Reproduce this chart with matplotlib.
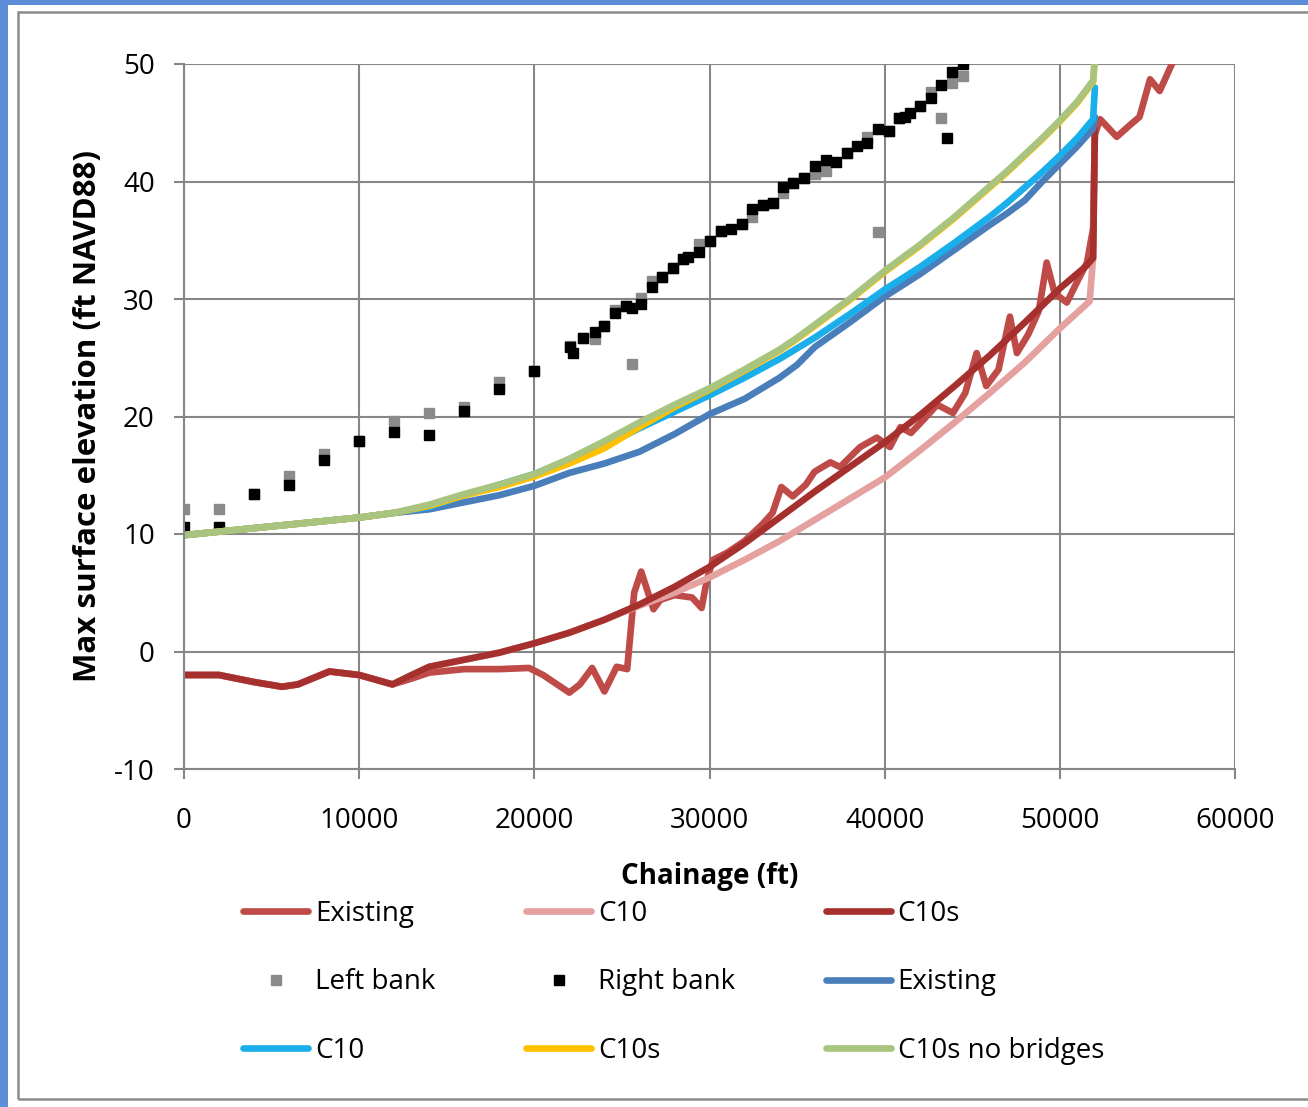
import matplotlib
matplotlib.use('Agg')
import matplotlib.pyplot as plt
from matplotlib.patches import Rectangle

plt.rcParams['font.family'] = ['Open Sans', 'DejaVu Sans']
plt.rcParams['axes.unicode_minus'] = False

# bed profiles (red)
bed_x = [0, 2000, 4000, 5600, 6500, 8300, 10000, 11900, 13000, 14000, 16000, 18000, 19700, 20500,
         22000, 22600, 23300, 24000, 24700, 25300, 25700, 26100, 26800, 27200, 28000, 28500, 29000,
         29550, 29850, 30200, 31000, 32000, 33000, 33600, 34100, 34750, 35500, 36000, 36900, 37450,
         38600, 39550, 40300, 40900, 41500, 42200, 43000, 43900, 44600, 45250, 45800, 46500, 47150,
         47550, 48200, 48800, 49250, 49700, 50400, 51000, 51550, 51900, 52000, 52300, 53250, 54000,
         54550, 55150, 55700, 56550]
bed_existing = [-2.0, -2.0, -2.6, -3.0, -2.8, -1.7, -2.0, -2.8, -2.3, -1.8, -1.5, -1.5, -1.4, -2.0,
                -3.5, -2.8, -1.4, -3.4, -1.3, -1.5, 5.0, 6.8, 3.6, 4.4, 4.8, 4.7, 4.6,
                3.7, 6.1, 7.8, 8.4, 9.4, 10.8, 11.8, 14.0, 13.2, 14.2, 15.3, 16.1, 15.7,
                17.4, 18.2, 17.4, 19.1, 18.6, 19.7, 21.0, 20.3, 22.0, 25.4, 22.6, 24.0, 28.5,
                25.4, 27.0, 29.0, 33.1, 30.5, 29.7, 31.5, 33.1, 36.0, 44.0, 45.3, 43.8, 44.8,
                45.5, 48.7, 47.7, 50.5]

c10s_x = [0, 2000, 4000, 5600, 6500, 8300, 10000, 11900, 13000, 14000, 16000, 18000, 20000, 22000,
          24000, 26000, 28000, 30000, 32000, 34000, 36000, 38000, 40000, 42000, 44000, 46000,
          48000, 50000, 51500, 51900, 52000]
bed_c10s = [-2.0, -2.0, -2.6, -3.0, -2.8, -1.7, -2.0, -2.8, -2.0, -1.3, -0.7, -0.1, 0.7, 1.6,
            2.7, 4.0, 5.5, 7.2, 9.2, 11.4, 13.6, 15.7, 17.8, 20.1, 22.6, 25.2,
            28.0, 30.9, 32.8, 33.5, 44.5]

c10_x = [0, 2000, 4000, 5600, 6500, 8300, 10000, 11900, 13000, 14000, 16000, 18000, 20000, 22000,
         24000, 25000, 26000, 28000, 30000, 32000, 34000, 36000, 38000, 40000, 42000, 44000,
         46000, 48000, 50000, 51700, 51900, 52000]
bed_c10 = [-2.0, -2.0, -2.6, -3.0, -2.8, -1.7, -2.0, -2.8, -2.0, -1.3, -0.7, -0.1, 0.7, 1.6,
           2.7, 3.3, 3.9, 5.0, 6.3, 7.8, 9.4, 11.2, 13.0, 14.8, 17.1, 19.5,
           22.0, 24.6, 27.5, 29.8, 33.5, 44.5]

# water surface (blue/green)
ws_x = [0, 2000, 4000, 6000, 8000, 10000, 12000, 14000, 16000, 18000, 20000, 22000, 24000, 26000,
        28000, 30000, 32000, 34000, 35000, 36000, 38000, 40000, 42000, 44000, 46000, 47000, 48000,
        49000, 50000, 51000, 51900, 52000]
ws_existing = [9.9, 10.2, 10.5, 10.8, 11.1, 11.4, 11.8, 12.1, 12.7, 13.3, 14.1, 15.2, 16.0, 17.0,
               18.5, 20.2, 21.5, 23.3, 24.4, 25.9, 28.0, 30.2, 32.1, 34.2, 36.3, 37.3, 38.4,
               40.0, 41.5, 43.0, 44.5, 45.5]
ws_c10 = [9.9, 10.2, 10.5, 10.8, 11.1, 11.4, 11.8, 12.3, 13.3, 14.2, 15.1, 16.3, 17.5, 19.0,
          20.4, 21.8, 23.3, 24.9, 25.8, 26.7, 28.7, 30.8, 32.7, 34.8, 37.0, 38.2, 39.5,
          40.8, 42.2, 43.7, 45.3, 48.0]
ws_c10s = [9.9, 10.2, 10.5, 10.8, 11.1, 11.4, 11.8, 12.4, 13.3, 14.0, 14.9, 16.0, 17.3, 19.1,
           20.8, 22.3, 23.9, 25.6, 26.6, 27.7, 29.9, 32.3, 34.5, 36.9, 39.5, 40.8, 42.2,
           43.6, 45.1, 46.7, 48.5, 50.5]
ws_nobridges = [9.9, 10.2, 10.5, 10.8, 11.1, 11.4, 11.8, 12.5, 13.4, 14.2, 15.1, 16.4, 17.9, 19.5,
                21.0, 22.4, 24.0, 25.7, 26.7, 27.8, 30.0, 32.4, 34.6, 37.0, 39.6, 40.9, 42.3,
                43.7, 45.2, 46.8, 48.6, 50.5]

# bank stations
lb_x = [0, 2000, 4000, 6000, 8000, 10000, 12000, 14000, 16000, 18000, 20000, 22050, 22800, 23450,
        24000, 24600, 25250, 25550, 26100, 26700, 27300, 27900, 28500, 29400, 30000, 30650, 31850,
        32450, 33050, 33600, 34200, 34750, 35400, 36050, 36650, 37850, 39000, 39600, 40250, 40800,
        42000, 42650, 43200, 43850, 44450]
left_bank = [12.1, 12.1, 13.4, 14.9, 16.8, 17.9, 19.6, 20.3, 20.8, 22.9, 23.9, 26.0, 26.7, 26.6,
             27.7, 29.1, 29.4, 24.5, 30.1, 31.5, 31.9, 32.6, 33.4, 34.7, 34.9, 35.8, 36.4,
             37.0, 38.0, 38.2, 39.0, 39.9, 40.3, 40.6, 40.9, 42.4, 43.8, 35.7, 44.3, 45.4,
             46.4, 47.6, 45.4, 48.4, 49.0]
rb_x = [0, 2000, 4000, 6000, 8000, 10000, 12000, 14000, 16000, 18000, 20000, 22050, 22200, 22800,
        23450, 24000, 24600, 25250, 25600, 26100, 26700, 27300, 27900, 28500, 28800, 29400, 30000,
        30650, 31200, 31850, 32450, 33050, 33600, 34200, 34750, 35400, 36050, 36650, 37250, 37850,
        38400, 39000, 39600, 40250, 40800, 41150, 41450, 42000, 42650, 43200, 43550, 43850, 44450]
right_bank = [10.6, 10.6, 13.4, 14.2, 16.3, 17.9, 18.7, 18.4, 20.5, 22.3, 23.9, 25.9, 25.4, 26.7,
              27.2, 27.7, 28.8, 29.4, 29.2, 29.6, 31.0, 31.9, 32.6, 33.4, 33.6, 34.0, 34.9,
              35.8, 36.0, 36.4, 37.7, 38.0, 38.2, 39.5, 39.9, 40.3, 41.3, 41.8, 41.7, 42.4,
              43.0, 43.3, 44.5, 44.3, 45.4, 45.5, 45.8, 46.4, 47.1, 48.2, 43.7, 49.3, 50.0]

W, H = 1308, 1107
fig = plt.figure(figsize=(W / 100, H / 100), dpi=100)
fig.patch.set_facecolor('white')
# blue frame strips and grey chart border
fig.patches.append(Rectangle((0, 0), 8 / W, 1, transform=fig.transFigure, facecolor='#5B8ED6', edgecolor='none'))
fig.patches.append(Rectangle((0, 1 - 5 / H), 1, 5 / H, transform=fig.transFigure, facecolor='#5B8ED6', edgecolor='none'))
fig.patches.append(Rectangle((18 / W, 1 - 1099 / H), 1.0, (1099 - 12) / H, transform=fig.transFigure,
                             facecolor='none', edgecolor='#8C8C8C', linewidth=1.8))

ax = fig.add_axes([184 / W, 1 - 769 / H, (1235 - 184) / W, (769 - 64) / H])

lw = 4.8
kw = dict(lw=lw, solid_joinstyle='round', solid_capstyle='round')
h1, = ax.plot(bed_x, bed_existing, color='#BE4B48', label='Existing', **kw)
h2, = ax.plot(c10_x, bed_c10, color='#E5A1A0', label='C10', **kw)
h3, = ax.plot(c10s_x, bed_c10s, color='#A5302D', label='C10s', **kw)
h4, = ax.plot(lb_x, left_bank, ls='none', marker='s', ms=6.5, color='#8A8A8A', label='Left bank')
h5, = ax.plot(rb_x, right_bank, ls='none', marker='s', ms=6.5, color='black', label='Right bank')
h6, = ax.plot(ws_x, ws_existing, color='#4A7EBB', label='Existing', **kw)
h7, = ax.plot(ws_x, ws_c10, color='#1AAEEA', label='C10', **kw)
h8, = ax.plot(ws_x, ws_c10s, color='#FFC000', label='C10s', **kw)
h9, = ax.plot(ws_x, ws_nobridges, color='#A8C47E', label='C10s no bridges', **kw)

ax.set_xlim(0, 60000)
ax.set_ylim(-10, 50)
ax.set_xticks(range(0, 60001, 10000))
ax.set_yticks(range(-10, 51, 10))
ax.grid(True, color='#868686', lw=1.5)
ax.set_axisbelow(True)
for s in ['top', 'right']:
    ax.spines[s].set_visible(False)
for s in ['left', 'bottom']:
    ax.spines[s].set_color('#868686')
    ax.spines[s].set_linewidth(1.5)
ax.tick_params(axis='both', direction='out', length=7, width=1.5, color='#868686', labelsize=20)
ax.tick_params(axis='y', pad=14)
ax.tick_params(axis='x', pad=20)

ax.set_xlabel('Chainage (ft)', fontsize=20, fontweight='bold', labelpad=20)
ax.set_ylabel('Max surface elevation (ft NAVD88)', fontsize=22.5, fontweight='bold', labelpad=8)

handles = [h1, h2, h3, h4, h5, h6, h7, h8, h9]
order = [0, 3, 6, 1, 4, 7, 2, 5, 8]
leg = fig.legend([handles[i] for i in order], [handles[i].get_label() for i in order],
                 ncol=3, loc='upper left', bbox_to_anchor=(243 / W, 1 - 900 / H),
                 frameon=False, fontsize=20, handlelength=2.35, handletextpad=0.25,
                 columnspacing=3.25, labelspacing=1.45, borderpad=0, borderaxespad=0)

fig.savefig('out.png', dpi=100, facecolor='white')
